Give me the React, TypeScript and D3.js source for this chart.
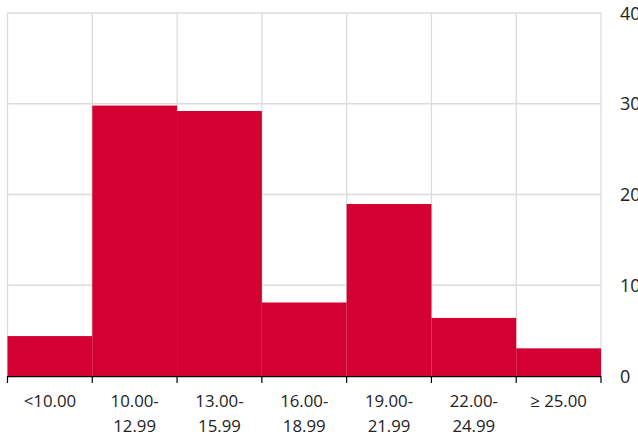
import * as d3 from 'd3'

const categories = ['<10.00', '10.00-\n12.99', '13.00-\n15.99', '16.00-\n18.99', '19.00-\n21.99', '22.00-\n24.99', '≥ 25.00']
const values = [4.4, 29.8, 29.2, 8.1, 18.95, 6.4, 3.05]
const yTicks = [0, 10, 20, 30, 40]

const W = 638
const H = 437
const margin = { top: 13, right: 37, bottom: 61, left: 7.5 }
const font = '"Open Sans", "Noto Sans", sans-serif'

export default function App() {
  const x = d3.scaleBand<string>()
    .domain(categories)
    .range([margin.left, W - margin.right])
    .padding(0)

  const y = d3.scaleLinear()
    .domain([0, 40])
    .range([H - margin.bottom, margin.top])

  const bottom = y(0)
  const left = margin.left
  const right = W - margin.right
  const bounds = categories.map(c => x(c) as number).concat([right])

  return (
    <svg width={W} height={H} style={{ position: 'absolute', left: 0, top: 0, fontFamily: font }}>
      {/* grid */}
      <g stroke="#dcdcdc" strokeWidth={1.3}>
        {yTicks.filter(t => t > 0).map(t => (
          <line key={'h' + t} x1={left} x2={right} y1={y(t)} y2={y(t)} />
        ))}
        {bounds.map((b, i) => (
          <line key={'v' + i} x1={b} x2={b} y1={margin.top} y2={bottom} />
        ))}
      </g>

      {/* bars */}
      <g fill="#d30031">
        {categories.map((c, i) => (
          <rect key={c} x={x(c)} y={y(values[i])} width={x.bandwidth()} height={bottom - y(values[i])} />
        ))}
      </g>

      {/* x axis */}
      <g stroke="#000" strokeWidth={1.2}>
        <line x1={left} x2={right} y1={bottom + 0.6} y2={bottom + 0.6} />
        {bounds.map((b, i) => (
          <line key={'t' + i} x1={b} x2={b} y1={bottom} y2={bottom + 7} />
        ))}
      </g>

      {categories.map(c => {
        const lines = c.split('\n')
        const cx = (x(c) as number) + x.bandwidth() / 2
        return (
          <text key={'l' + c} x={cx} textAnchor="middle" fontSize={16.8} fill="#222">
            {lines.map((l, j) => (
              <tspan key={j} x={cx} y={407 + j * 25}>{l}</tspan>
            ))}
          </text>
        )
      })}

      {yTicks.map(t => (
        <text key={'y' + t} x={620} y={y(t) + 6.5} fontSize={18} fill="#222">{t}</text>
      ))}
    </svg>
  )
}
